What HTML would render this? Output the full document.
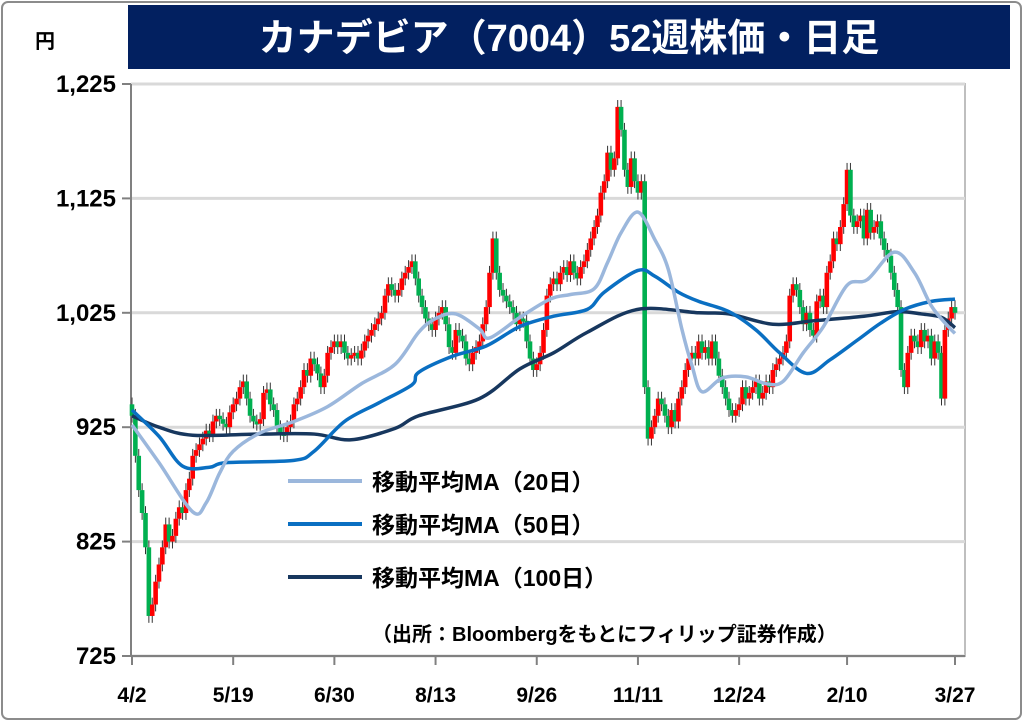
<!DOCTYPE html>
<html><head><meta charset="utf-8"><style>
body{margin:0;background:#fff;}
svg{display:block;font-family:"Liberation Sans","Noto Sans CJK JP",sans-serif;}
</style></head><body>
<svg id="chart" width="1024" height="722" viewBox="0 0 1024 722">
<rect x="2" y="2" width="1019" height="717" rx="6" fill="#fff" stroke="#8c8c8c" stroke-width="2"/>
<rect x="128" y="5" width="882" height="64" fill="#022060"/>
<text x="569" y="51" text-anchor="middle" fill="#fff" font-size="38" font-weight="bold" font-family="'Liberation Sans','Noto Sans CJK JP',sans-serif">カナデビア（7004）52週株価・日足</text>
<text x="45" y="48" text-anchor="middle" font-size="20" font-weight="bold">円</text>
<g id="grid"></g><g id="axes"></g><g id="candles"></g><g id="mas"></g>
<g font-weight="bold">
<line x1="288" y1="481" x2="362" y2="481" stroke="#9bb7dc" stroke-width="4"/>
<text x="372" y="490" font-size="23">移動平均MA（20日）</text>
<line x1="288" y1="524" x2="362" y2="524" stroke="#0a6fc2" stroke-width="4"/>
<text x="372" y="533" font-size="23">移動平均MA（50日）</text>
<line x1="288" y1="577" x2="362" y2="577" stroke="#17375e" stroke-width="4"/>
<text x="372" y="586" font-size="23">移動平均MA（100日）</text>
<text x="372" y="641" font-size="20">（出所：Bloombergをもとにフィリップ証券作成）</text>
</g>
</svg>
<script>
const yTicks=[725,825,925,1025,1125,1225];
const yTickLabels=["725","825","925","1,025","1,125","1,225"];
const xTickDays=[0,30,60,90,120,150,180,212,244];
const xTickLabels=["4/2","5/19","6/30","8/13","9/26","11/11","12/24","2/10","3/27"];
const closes=[935,900,870,850,820,760,770,790,805,820,
840,825,830,845,855,850,870,880,900,905,
910,915,922,918,930,935,932,928,925,938,
945,950,960,965,950,935,930,928,932,955,
958,945,940,925,920,918,925,930,945,950,
960,975,970,985,980,972,960,970,990,995,
1000,995,1000,990,985,988,990,985,992,1000,
1005,1010,1015,1020,1025,1040,1050,1045,1040,1045,
1055,1060,1065,1070,1055,1040,1030,1020,1015,1010,
1020,1025,1030,1015,995,990,1010,1005,1000,985,
980,990,995,1000,1015,1030,1060,1090,1060,1045,
1040,1035,1030,1025,1015,1020,1018,1000,985,975,
980,990,1010,1040,1050,1055,1050,1060,1065,1058,
1070,1060,1055,1065,1070,1080,1090,1100,1110,1130,
1140,1165,1150,1160,1205,1185,1150,1135,1160,1140,
1130,1140,960,915,925,935,950,945,935,925,
940,930,950,960,975,985,990,985,1000,990,
995,985,1000,985,970,960,950,940,935,940,
945,960,950,955,960,965,950,955,965,960,
975,980,985,990,1000,1040,1050,1045,1030,1015,
1025,1010,1005,1035,1040,1030,1060,1070,1090,1085,
1100,1120,1150,1110,1100,1105,1110,1090,1115,1095,
1100,1105,1090,1080,1075,1060,1045,1030,975,960,
990,1005,1000,995,1010,1000,1005,985,1000,990,
950,1010,1020,1030,1025];
const ma20Days=[0,8,18,22,26,30,38,48,58,68,78,85,90,96,103,106,115,124,130,137,141,145,150,155,159,163,166,169,175,182,188,193,199,205,212,218,226,232,237,242,244];
const ma20=[927,894,851,859,885,904,920,930,943,963,980,1008,1020,1024,1011,1003,1021,1037,1041,1046,1069,1095,1113,1089,1063,1011,979,956,968,969,963,965,990,1013,1049,1054,1078,1060,1031,1013,1007];
const ma50Days=[0,8,15,23,28,48,54,63,73,83,85,95,105,115,125,135,140,150,155,162,168,177,185,192,200,207,215,222,229,237,244];
const ma50=[940,917,891,890,894,896,904,930,946,962,973,987,996,1013,1022,1028,1043,1062,1057,1043,1035,1026,1010,990,972,984,1001,1016,1028,1035,1037];
const ma100Days=[0,8,18,38,54,65,78,85,103,115,125,135,150,168,177,190,202,217,227,234,240,244];
const ma100=[935,925,918,919,919,914,924,935,950,976,990,1008,1028,1025,1024,1015,1018,1022,1026,1024,1021,1012];

const X0=132,X1=955,Y0=656,Y1=84,PMIN=725,PMAX=1225,NDAYS=245;
function xs(d){return X0+d*(X1-X0)/(NDAYS-1);}
function ys(p){return Y0-(p-PMIN)*(Y0-Y1)/(PMAX-PMIN);}
const NS="http://www.w3.org/2000/svg";
function mk(tag,attrs,parent){const e=document.createElementNS(NS,tag);for(const k in attrs)e.setAttribute(k,attrs[k]);parent.appendChild(e);return e;}
const grid=document.getElementById('grid'),axes=document.getElementById('axes'),cg=document.getElementById('candles'),mg=document.getElementById('mas');
const pa=mk('rect',{x:131,y:84,width:834,height:572,fill:'none',stroke:'#bfbfbf','stroke-width':2},grid);


yTicks.forEach((v,i)=>{
  const y=ys(v);
  const g=mk('line',{x1:131,x2:965,y1:y,y2:y,stroke:'#d9d9d9','stroke-width':3},grid);
  
  
  const t=mk('line',{x1:122,x2:131,y1:y,y2:y,stroke:'#808080','stroke-width':2},axes);
  
  
  const l=mk('text',{x:116,y:y+8,'text-anchor':'end','font-size':24,'font-weight':'bold'},axes);
  l.textContent=yTickLabels[i];
  
  
});
const ax=mk('line',{x1:131,x2:131,y1:84,y2:656,stroke:'#808080','stroke-width':2},axes);


const bx=mk('line',{x1:131,x2:965,y1:656,y2:656,stroke:'#808080','stroke-width':2},axes);


xTickDays.forEach((d,i)=>{
  const x=xs(d);
  const t=mk('line',{x1:x,x2:x,y1:656,y2:665,stroke:'#808080','stroke-width':2},axes);
  
  
  const l=mk('text',{x:x,y:702,'text-anchor':'middle','font-size':21,'font-weight':'bold'},axes);
  l.textContent=xTickLabels[i];
  
  
});
closes.forEach((c,i)=>{
  const o=i===0?945:closes[i-1];
  const up=c>=o;
  const hi=Math.max(o,c)+6,lo=Math.min(o,c)-6;
  const x=xs(i);
  const w=mk('line',{x1:x,x2:x,y1:ys(hi),y2:ys(lo),stroke:'#333','stroke-width':1},cg);
  
  
  const top=ys(Math.max(o,c)),bot=ys(Math.min(o,c));
  const r=mk('rect',{x:x-2.3,y:top,width:4.6,height:Math.max(3,bot-top),fill:up?'#ff0000':'#00b050'},cg);
  
  
});
function path(days,vals){
  const p=days.map((d,i)=>[xs(d),ys(vals[i])]);
  let s='M'+p[0][0]+','+p[0][1];
  for(let i=0;i<p.length-1;i++){
    const p0=p[Math.max(0,i-1)],p1=p[i],p2=p[i+1],p3=p[Math.min(p.length-1,i+2)];
    s+=' C'+(p1[0]+(p2[0]-p0[0])/6)+','+(p1[1]+(p2[1]-p0[1])/6)+' '+(p2[0]-(p3[0]-p1[0])/6)+','+(p2[1]-(p3[1]-p1[1])/6)+' '+p2[0]+','+p2[1];
  }
  return s;
}
const l100=mk('path',{d:path(ma100Days,ma100),fill:'none',stroke:'#17375e','stroke-width':3.5},mg);


const l50=mk('path',{d:path(ma50Days,ma50),fill:'none',stroke:'#0a6fc2','stroke-width':3.5},mg);


const l20=mk('path',{d:path(ma20Days,ma20),fill:'none',stroke:'#9bb7dc','stroke-width':3.5},mg);


</script>
</body></html>
